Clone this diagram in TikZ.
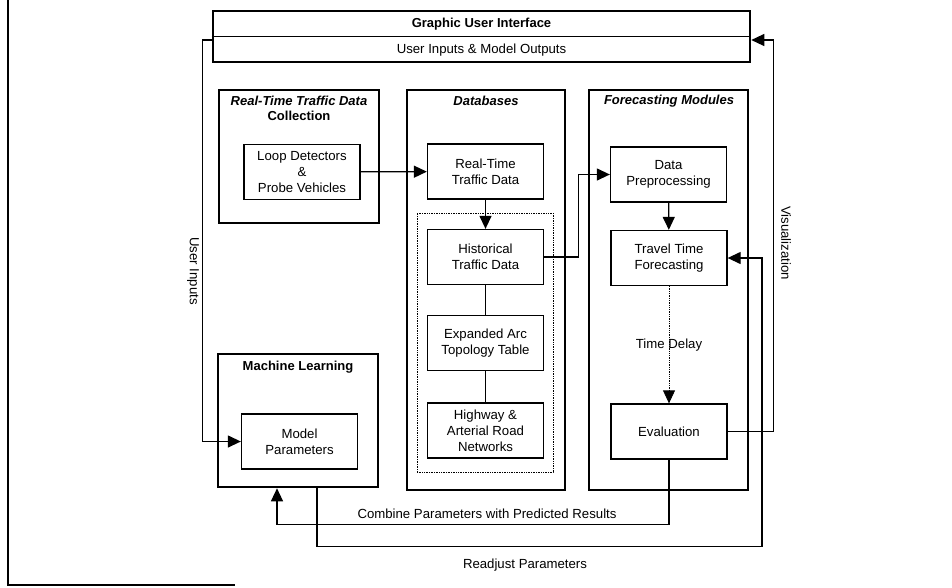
\documentclass[tikz,border=0pt]{standalone}
\usepackage{fontspec}
\setmainfont{Liberation Sans}
\usepackage{tikz}
\usetikzlibrary{arrows.meta,positioning}
\def\txt{\fontsize{13.2}{15.8}\selectfont}
\def\hdr{\fontsize{13}{15}\selectfont\bfseries}
\tikzset{
	group/.style={draw, line width=2.6pt, inner sep=0pt},
	box/.style={draw, line width=1.3pt, minimum width=116pt, minimum height=55pt, align=center, inner sep=1pt, font=\txt},
	head/.style={align=center, inner sep=0pt, font=\hdr},
	note/.style={inner sep=0pt, font=\txt},
	link/.style={line width=1.3pt, -{Triangle[length=13pt,width=12pt]}},
	plain/.style={line width=1.1pt},
}

\begin{document}
\begin{tikzpicture}[x=1pt, y=-1pt]
	\useasboundingbox (0,0) rectangle (952,587);
	\draw[line width=1.6pt] (8,0) -- (8,585) -- (235,585);

	\node[group, minimum width=537pt, minimum height=51pt] (gui) at (481.5,36.5) {};
	\draw[plain] (gui.west) -- (gui.east);
	\node[head] (guititle) at (481.5,24) {Graphic User Interface};
	\node[note] (guisub) at (481.5,50) {User Inputs \& Model Outputs};

	\node[group, minimum width=160pt, minimum height=133pt] (rtc) at (299,156.5) {};
	\node[group, minimum width=158pt, minimum height=400pt] (db) at (486,290) {};
	\node[group, minimum width=159pt, minimum height=400pt] (fm) at (668.5,290) {};
	\node[group, minimum width=160pt, minimum height=133pt] (ml) at (298,420.5) {};
	\node[draw, densely dotted, line width=0.7pt, minimum width=136pt, minimum height=259pt] (store) at (485,342.5) {};

	\node[head] (rtctitle) at (299,108.5) {\itshape Real-Time Traffic Data\\Collection};
	\node[head] (dbtitle) at (486,101) {\itshape Databases};
	\node[head] (fmtitle) at (669,101) {\itshape Forecasting Modules};
	\node[head] (mltitle) at (298,367) {Machine Learning};

	\node[box] (loop) at (302,172) {Loop Detectors\\\&\\Probe Vehicles};
	\node[box] (rt) at (485.5,171.5) {Real-Time\\Traffic Data};
	\node[box] (hist) at (485.5,257) {Historical\\Traffic Data};
	\node[box] (arc) at (485.5,343) {Expanded Arc\\Topology Table};
	\node[box] (road) at (485.5,430.5) {Highway \&\\Arterial Road\\Networks};
	\node[box] (prep) at (668.5,174.5) {Data\\Preprocessing};
	\node[box] (ttf) at (669,258) {Travel Time\\Forecasting};
	\node[box] (eval) at (669,431.5) {Evaluation};
	\node[box] (param) at (299.5,441.5) {Model\\Parameters};

	\draw[link] (loop) -- (rt);
	\draw[link] (rt) -- (hist);
	\draw[plain] (hist) -- (arc);
	\draw[plain] (arc) -- (road);
	\draw[link] (hist.east) -- ++(34,0) |- (prep.west);
	\draw[link] (prep) -- (ttf);
	\draw[link, densely dotted, line width=0.8pt] (ttf) -- node[note] (delay) {Time Delay} (eval);

	\draw[link] ([yshift=-3.5pt]gui.west) -- ++(-9,0) |- (param.west);
	\node[note, rotate=-90] (uin) at (193,271) {User Inputs};
	\draw[link] (eval.east) -- ++(46,0) |- ([yshift=-3.5pt]gui.east);
	\node[note, rotate=-90] (vis) at (786,243) {Visualization};

	\draw[link] (eval.south) -- ++(0,65) -| ([xshift=-21pt]ml.south);
	\node[note] (combine) at (487,514) {Combine Parameters with Predicted Results};
	\draw[link] ([xshift=19pt]ml.south) -- ++(0,58) -| ++(445,-40) |- (ttf.east);
	\node[note] (readjust) at (525,565) {Readjust Parameters};
\end{tikzpicture}
\end{document}
